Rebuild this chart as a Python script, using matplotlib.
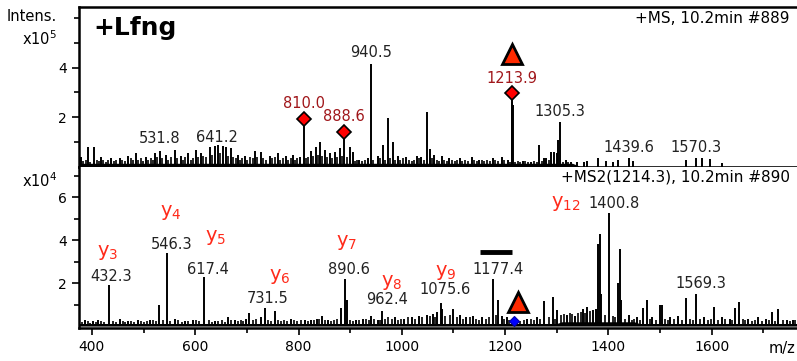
import matplotlib.pyplot as plt
import numpy as np

plt.rcParams['font.family'] = ['DejaVu Sans']

# MS scan (intensity in units of 1e5)
ms_mz = [379, 392, 404, 417, 437, 454, 470, 485, 504, 522, 531, 543, 560, 572, 586,
         601, 611, 628, 638, 644, 653, 659, 669, 682, 696, 715, 727, 744, 760, 775,
         789, 802, 810.0, 824, 833, 841, 851, 860, 870, 880, 888.6, 899, 905, 918,
         934, 940.5, 953, 963, 974, 982, 992, 1009, 1029, 1038, 1048, 1054, 1063,
         1077, 1092, 1112, 1135, 1150, 1176, 1193, 1205, 1212.5, 1213.9, 1215.5,
         1234, 1251, 1266, 1276, 1280, 1288, 1294, 1300, 1303, 1305.3, 1317, 1328,
         1340, 1353, 1359, 1379, 1396, 1408, 1418, 1439.6, 1448, 1551, 1570.3, 1582,
         1597, 1620]
ms_int = [0.4, 0.8, 0.8, 0.4, 0.35, 0.35, 0.45, 0.55, 0.4, 0.55, 0.65, 0.5, 0.7, 0.45,
          0.55, 0.7, 0.55, 0.8, 0.85, 0.9, 0.85, 0.8, 0.75, 0.5, 0.45, 0.65, 0.6, 0.45,
          0.55, 0.45, 0.5, 0.4, 1.92, 0.65, 0.8, 1.0, 0.7, 0.55, 0.6, 0.75, 1.4, 0.8,
          0.6, 0.3, 0.35, 4.15, 0.45, 0.9, 1.96, 1.0, 0.45, 0.4, 0.45, 0.4, 2.2, 0.72,
          0.5, 0.45, 0.35, 0.35, 0.4, 0.3, 0.35, 0.4, 0.3, 2.6, 2.96, 2.5, 0.25, 0.2,
          0.88, 0.35, 0.35, 0.6, 0.6, 0.55, 1.1, 1.8, 0.3, 0.2, 0.2, 0.2, 0.25, 0.35,
          0.25, 0.2, 0.3, 0.35, 0.25, 0.3, 0.35, 0.35, 0.33, 0.15]
# small background spikes between the main peaks
ms_bg_mz = [383, 388, 397, 409, 413, 422, 427, 432, 442, 447, 459, 464, 475, 480, 490,
            495, 499, 509, 514, 518, 527, 536, 548, 553, 565, 577, 581, 591, 596, 606,
            616, 621, 633, 648, 663, 674, 678, 687, 691, 701, 706, 711, 720, 732, 737,
            749, 754, 765, 770, 780, 785, 794, 798, 815, 819, 828, 837, 846, 855, 865,
            875, 884, 894, 909, 913, 923, 928, 945, 958, 968, 978, 987, 997, 1002, 1014,
            1019, 1024, 1033, 1043, 1058, 1068, 1072, 1082, 1087, 1097, 1102, 1107,
            1117, 1122, 1128, 1140, 1145, 1155, 1160, 1165, 1170, 1181, 1186, 1198,
            1209, 1220, 1225, 1229, 1239, 1244, 1256, 1261, 1271, 1284, 1312, 1322]
ms_bg_int = [0.25, 0.3, 0.2, 0.3, 0.25, 0.3, 0.2, 0.3, 0.25, 0.3, 0.3, 0.25, 0.35, 0.3,
             0.3, 0.35, 0.25, 0.3, 0.35, 0.3, 0.4, 0.35, 0.3, 0.4, 0.35, 0.3, 0.4, 0.3,
             0.35, 0.4, 0.45, 0.4, 0.5, 0.55, 0.45, 0.4, 0.35, 0.3, 0.35, 0.3, 0.4, 0.35,
             0.4, 0.35, 0.3, 0.35, 0.4, 0.3, 0.35, 0.3, 0.35, 0.3, 0.35, 0.35, 0.4, 0.45,
             0.5, 0.45, 0.4, 0.35, 0.4, 0.45, 0.4, 0.25, 0.3, 0.25, 0.3, 0.3, 0.35, 0.3,
             0.35, 0.3, 0.3, 0.35, 0.3, 0.25, 0.3, 0.35, 0.3, 0.35, 0.3, 0.25, 0.3, 0.25,
             0.3, 0.25, 0.3, 0.25, 0.3, 0.25, 0.3, 0.25, 0.3, 0.25, 0.3, 0.25, 0.3, 0.25,
             0.3, 0.2, 0.2, 0.25, 0.2, 0.25, 0.2, 0.25, 0.2, 0.25, 0.3, 0.2, 0.2]
ms_floor_mz = [375, 1330, 1345, 1765]
ms_floor = [0.15, 0.15, 0.03, 0.03]
ms_labels = [531.8, 641.2, 940.5, 1305.3, 1439.6, 1570.3]
ms_label_y = [0.85, 0.9, 4.3, 1.95, 0.5, 0.5]
ms_marked = [810.0, 888.6, 1213.9]
ms_marked_int = [1.92, 1.4, 2.96]

# MS2 scan (intensity in units of 1e4)
ms2_mz = [386, 402, 412, 432.3, 454, 470, 489, 512, 530, 546.3, 561, 580, 595, 617.4,
          638, 663, 677, 698, 705, 727, 735, 754, 785, 812, 824, 835, 845, 857, 882,
          890.6, 893, 912, 924, 941, 953, 962.4, 986, 1005, 1019, 1034, 1048, 1060,
          1069, 1078, 1075.6, 1100, 1112, 1125, 1137, 1156, 1177.4, 1187, 1193, 1203,
          1218, 1243, 1261, 1276, 1292, 1301, 1320, 1335, 1350, 1359, 1370, 1376,
          1380, 1383, 1386, 1400.8, 1418, 1422, 1425, 1440, 1455, 1467, 1474, 1485,
          1500, 1503, 1520, 1535, 1550, 1569.3, 1585, 1605, 1620, 1635, 1645, 1653,
          1670, 1690, 1705, 1717, 1729, 1745, 1758]
ms2_int = [0.3, 0.25, 0.3, 1.9, 0.35, 0.25, 0.3, 0.3, 1.0, 3.4, 0.35, 0.25, 0.3, 2.3,
           0.25, 0.4, 0.3, 0.35, 0.6, 0.4, 0.85, 0.7, 0.35, 0.3, 0.3, 0.35, 0.45, 0.3,
           0.85, 2.2, 1.2, 0.3, 0.35, 0.45, 0.3, 0.7, 0.4, 0.35, 0.4, 0.45, 0.5, 0.55,
           0.65, 0.8, 1.05, 0.8, 0.5, 0.4, 0.45, 0.4, 2.2, 1.2, 0.45, 0.4, 0.25, 0.35,
           0.4, 1.15, 1.35, 0.75, 0.5, 0.45, 0.8, 0.9, 0.75, 0.8, 3.8, 4.3, 1.5, 5.25,
           2.0, 3.6, 1.2, 0.5, 0.4, 0.85, 1.2, 0.4, 1.0, 1.0, 0.4, 0.45, 1.3, 1.5, 0.4,
           0.9, 0.4, 0.35, 0.85, 1.1, 0.35, 0.4, 0.35, 0.65, 0.8, 0.3, 0.3]
ms2_bg_mz = [380, 392, 397, 407, 418, 424, 441, 447, 460, 465, 476, 482, 495, 500, 506,
             518, 524, 537, 552, 567, 574, 586, 601, 607, 626, 632, 645, 651, 657, 669,
             683, 688, 692, 712, 718, 741, 747, 760, 766, 772, 778, 792, 798, 805, 818,
             830, 840, 851, 863, 869, 875, 900, 905, 918, 930, 936, 947, 958, 968, 974,
             980, 992, 998, 1011, 1026, 1040, 1054, 1064, 1083, 1093, 1106, 1118, 1131,
             1143, 1150, 1162, 1169, 1182, 1198, 1208, 1228, 1236, 1250, 1256, 1268,
             1284, 1296, 1308, 1314, 1326, 1330, 1342, 1346, 1355, 1365, 1394, 1408,
             1413, 1432, 1446, 1450, 1462, 1480, 1492, 1510, 1515, 1527, 1542, 1557,
             1563, 1577, 1592, 1598, 1612, 1626, 1640, 1660, 1664, 1677, 1683, 1697,
             1711, 1722, 1737, 1751, 1762]
ms2_bg_int = [0.2, 0.25, 0.15, 0.2, 0.25, 0.2, 0.25, 0.2, 0.25, 0.2, 0.25, 0.2, 0.25, 0.2,
              0.25, 0.3, 0.25, 0.3, 0.25, 0.3, 0.2, 0.25, 0.3, 0.25, 0.3, 0.2, 0.25, 0.3,
              0.2, 0.3, 0.25, 0.3, 0.25, 0.3, 0.35, 0.3, 0.25, 0.3, 0.25, 0.3, 0.25, 0.3,
              0.25, 0.3, 0.25, 0.3, 0.35, 0.3, 0.25, 0.3, 0.35, 0.3, 0.25, 0.3, 0.35, 0.3,
              0.35, 0.3, 0.35, 0.4, 0.35, 0.3, 0.35, 0.4, 0.35, 0.4, 0.45, 0.4, 0.45, 0.5,
              0.4, 0.35, 0.4, 0.35, 0.3, 0.35, 0.4, 0.5, 0.35, 0.3, 0.25, 0.3, 0.35, 0.3,
              0.35, 0.4, 0.35, 0.5, 0.55, 0.6, 0.55, 0.6, 0.65, 0.6, 0.7, 0.5, 0.45, 0.4,
              0.35, 0.3, 0.35, 0.3, 0.35, 0.3, 0.35, 0.3, 0.35, 0.3, 0.35, 0.3, 0.35, 0.3,
              0.35, 0.3, 0.35, 0.3, 0.35, 0.3, 0.25, 0.3, 0.25, 0.3, 0.25, 0.3, 0.25, 0.3]
ms2_floor_mz = [375, 1300, 1310, 1450, 1460, 1765]
ms2_floor = [0.12, 0.12, 0.2, 0.2, 0.12, 0.12]
ms2_labels = ['432.3', '546.3', '617.4', '731.5', '890.6', '962.4', '1075.6', '1177.4',
              '1400.8', '1569.3']
ms2_label_x = [437, 555, 624, 741, 897, 971, 1083, 1187, 1411, 1579]
ms2_label_y = [2.3, 3.8, 2.65, 1.3, 2.65, 1.25, 1.72, 2.65, 5.7, 2.0]
ions = ['3', '4', '5', '6', '7', '8', '9', '12']
ion_x = [431, 553, 640, 764, 893, 980, 1085, 1318]
ion_y = [3.4, 5.3, 4.1, 2.3, 3.9, 2.05, 2.5, 5.7]

fig = plt.figure(figsize=(7.97, 3.61), dpi=100)
ax1 = fig.add_axes([0.0991, 0.5374, 0.9009, 0.4432])
ax2 = fig.add_axes([0.0991, 0.0914, 0.9009, 0.4460], sharex=ax1)

for ax in (ax1, ax2):
    ax.spines['right'].set_visible(False)
    for s in ('left', 'bottom', 'top'):
        ax.spines[s].set_linewidth(1.8)
    ax.tick_params(axis='both', which='major', direction='out', width=1.2, length=5,
                   labelsize=10)
    ax.tick_params(axis='both', which='minor', direction='out', width=1.2, length=3.5)
ax2.spines['top'].set_visible(False)

# top spectrum
ax1.fill_between(ms_floor_mz, 0, ms_floor, color='k', lw=0)
ax1.vlines(ms_bg_mz, 0, ms_bg_int, color='k', lw=1.2)
ax1.vlines(ms_mz, 0, ms_int, color='k', lw=1.4)
ax1.plot(ms_marked, ms_marked_int, 'D', ms=7, mfc='#ff0000', mec='k', mew=1.2)
for x, y in zip(ms_labels, ms_label_y):
    ax1.text(x, y, f'{x:.1f}', ha='center', va='bottom', fontsize=10.5, color='#222222')
for x, y in zip(ms_marked, ms_marked_int):
    ax1.text(x, y + 0.32, f'{x:.1f}', ha='center', va='bottom', fontsize=10.5,
             color='#a0161a')
ax1.plot([1213.9], [4.55], '^', ms=15, mfc='#ff2a00', mec='k', mew=2)
ax1.text(0.02, 0.87, '+Lfng', transform=ax1.transAxes, fontsize=18, fontweight='bold',
         va='center')
ax1.text(0.99, 0.93, '+MS, 10.2min #889', transform=ax1.transAxes, ha='right',
         va='center', fontsize=11)
ax1.set_ylim(0, 6.44)
ax1.set_yticks([2, 4])
ax1.set_yticks([1, 3, 5, 6], minor=True)
ax1.tick_params(axis='x', which='both', bottom=False, labelbottom=False)

# bottom spectrum
ax2.fill_between(ms2_floor_mz, 0, ms2_floor, color='k', lw=0)
ax2.vlines(ms2_bg_mz, 0, ms2_bg_int, color='k', lw=1.2)
ax2.vlines(ms2_mz, 0, ms2_int, color='k', lw=1.4)
for t, x, y in zip(ms2_labels, ms2_label_x, ms2_label_y):
    ax2.text(x, y, t, ha='center', va='center', fontsize=10.5, color='#222222')
for n, x, y in zip(ions, ion_x, ion_y):
    ax2.text(x, y, f'y$_{{{n}}}$', ha='center', va='center', fontsize=14,
             color='#ff2a1a')
ax2.plot([1152, 1214], [3.44, 3.44], color='k', lw=3.5, solid_capstyle='butt')
ax2.plot([1224], [1.1], '^', ms=15, mfc='#ff2a00', mec='k', mew=2)
ax2.plot([1218], [0.25], 'D', ms=5.5, mfc='#0000ff', mec='#0000aa', mew=0.8)
ax2.text(0.99, 0.935, '+MS2(1214.3), 10.2min #890', transform=ax2.transAxes,
         ha='right', va='center', fontsize=11)
ax2.set_ylim(-0.09, 7.4)
ax2.set_yticks([2, 4, 6])
ax2.set_yticks([1, 3, 5, 7], minor=True)
ax2.set_xlim(375, 1765)
ax2.set_xticks([400, 600, 800, 1000, 1200, 1400, 1600])
ax2.set_xticks([500, 700, 900, 1100, 1300, 1500, 1700], minor=True)

fig.text(0.008, 0.955, 'Intens.', fontsize=10.5, va='center')
fig.text(0.028, 0.893, 'x10$^5$', fontsize=10.5, va='center')
fig.text(0.028, 0.5, 'x10$^4$', fontsize=10.5, va='center')
fig.text(0.998, 0.035, 'm/z', fontsize=10.5, va='center', ha='right')

fig.savefig('out.png', dpi=100)
